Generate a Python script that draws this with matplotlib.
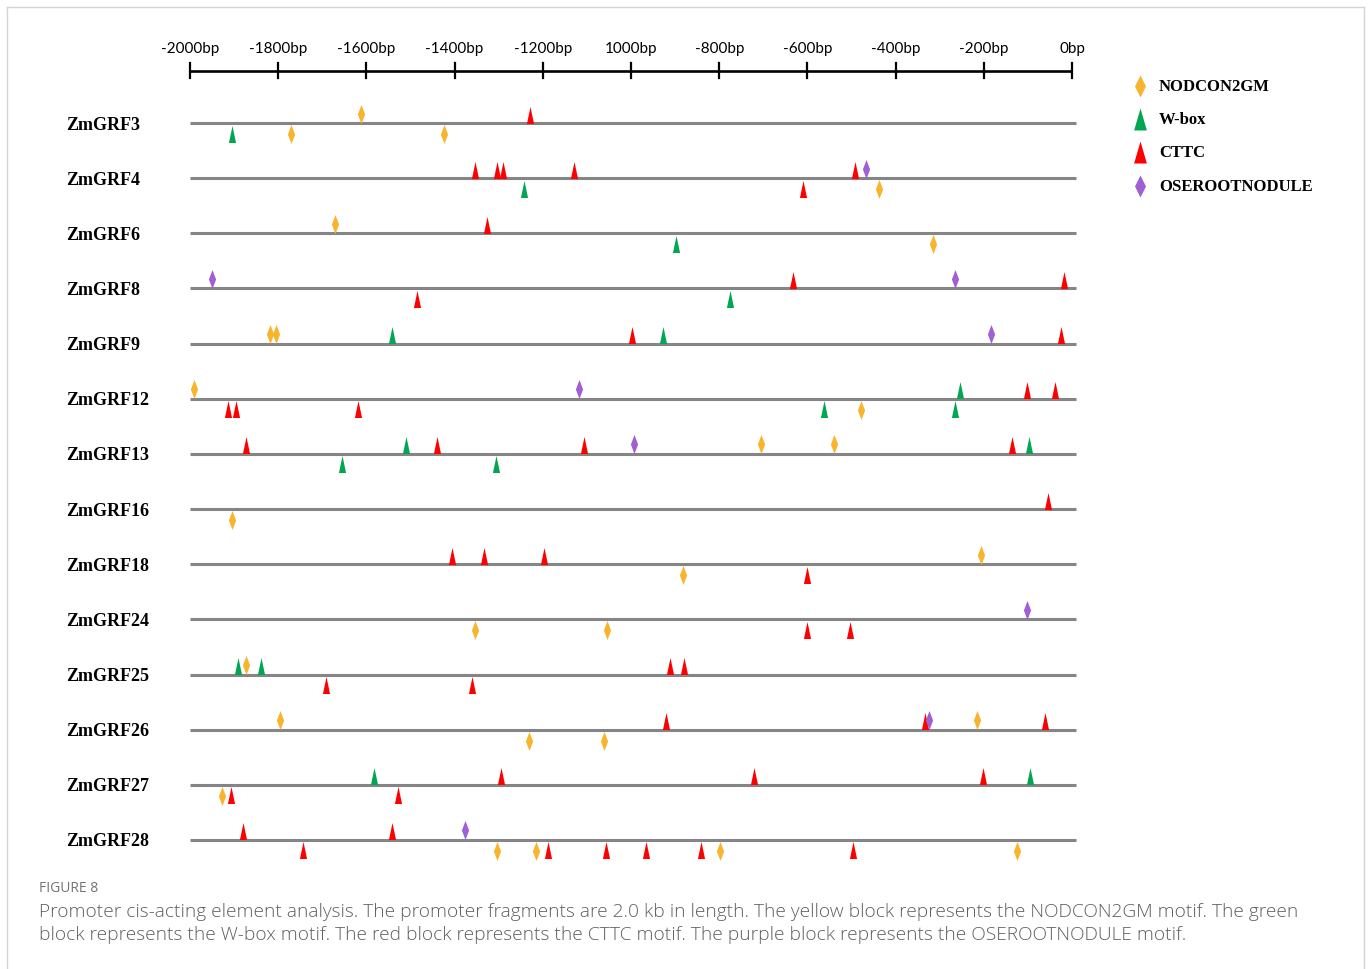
import matplotlib
matplotlib.use("Agg")
import matplotlib.pyplot as plt
from matplotlib.path import Path

# ---- data -------------------------------------------------------------
genes = ["ZmGRF3", "ZmGRF4", "ZmGRF6", "ZmGRF8", "ZmGRF9", "ZmGRF12", "ZmGRF13",
         "ZmGRF16", "ZmGRF18", "ZmGRF24", "ZmGRF25", "ZmGRF26", "ZmGRF27", "ZmGRF28"]

scale_ticks = [-2000, -1800, -1600, -1400, -1200, -1000, -800, -600, -400, -200, 0]
scale_labels = ["-2000bp", "-1800bp", "-1600bp", "-1400bp", "-1200bp", "1000bp",
                "-800bp", "-600bp", "-400bp", "-200bp", "0bp"]

# (gene, position in bp, strand) ; '+' drawn above the promoter line, '-' below
nodcon2gm = [
    ("ZmGRF3", -1612, "+"), ("ZmGRF3", -1771, "-"), ("ZmGRF3", -1425, "-"),
    ("ZmGRF4", -437, "-"),
    ("ZmGRF6", -1671, "+"), ("ZmGRF6", -315, "-"),
    ("ZmGRF9", -1819, "+"), ("ZmGRF9", -1805, "+"),
    ("ZmGRF12", -1990, "+"), ("ZmGRF12", -479, "-"),
    ("ZmGRF13", -705, "+"), ("ZmGRF13", -540, "+"),
    ("ZmGRF16", -1905, "-"),
    ("ZmGRF18", -207, "+"), ("ZmGRF18", -881, "-"),
    ("ZmGRF24", -1354, "-"), ("ZmGRF24", -1054, "-"),
    ("ZmGRF25", -1872, "+"),
    ("ZmGRF26", -1796, "+"), ("ZmGRF26", -215, "+"), ("ZmGRF26", -1231, "-"),
    ("ZmGRF26", -1062, "-"),
    ("ZmGRF27", -1927, "-"),
    ("ZmGRF28", -1303, "-"), ("ZmGRF28", -1216, "-"), ("ZmGRF28", -799, "-"),
    ("ZmGRF28", -125, "-"),
]

w_box = [
    ("ZmGRF3", -1905, "-"),
    ("ZmGRF4", -1243, "-"),
    ("ZmGRF6", -899, "-"),
    ("ZmGRF8", -775, "-"),
    ("ZmGRF9", -1541, "+"), ("ZmGRF9", -927, "+"),
    ("ZmGRF12", -253, "+"), ("ZmGRF12", -563, "-"), ("ZmGRF12", -265, "-"),
    ("ZmGRF13", -1510, "+"), ("ZmGRF13", -98, "+"), ("ZmGRF13", -1656, "-"),
    ("ZmGRF13", -1306, "-"),
    ("ZmGRF25", -1891, "+"), ("ZmGRF25", -1839, "+"),
    ("ZmGRF27", -1583, "+"), ("ZmGRF27", -95, "+"),
]

cttc = [
    ("ZmGRF3", -1228, "+"),
    ("ZmGRF4", -1353, "+"), ("ZmGRF4", -1304, "+"), ("ZmGRF4", -1290, "+"),
    ("ZmGRF4", -1129, "+"), ("ZmGRF4", -491, "+"), ("ZmGRF4", -609, "-"),
    ("ZmGRF6", -1327, "+"),
    ("ZmGRF8", -632, "+"), ("ZmGRF8", -18, "+"), ("ZmGRF8", -1486, "-"),
    ("ZmGRF9", -998, "+"), ("ZmGRF9", -25, "+"),
    ("ZmGRF12", -103, "+"), ("ZmGRF12", -39, "+"), ("ZmGRF12", -1913, "-"),
    ("ZmGRF12", -1896, "-"), ("ZmGRF12", -1619, "-"),
    ("ZmGRF13", -1873, "+"), ("ZmGRF13", -1439, "+"), ("ZmGRF13", -1107, "+"),
    ("ZmGRF13", -135, "+"),
    ("ZmGRF16", -54, "+"),
    ("ZmGRF18", -1405, "+"), ("ZmGRF18", -1333, "+"), ("ZmGRF18", -1197, "+"),
    ("ZmGRF18", -600, "-"),
    ("ZmGRF24", -600, "-"), ("ZmGRF24", -504, "-"),
    ("ZmGRF25", -912, "+"), ("ZmGRF25", -880, "+"), ("ZmGRF25", -1691, "-"),
    ("ZmGRF25", -1361, "-"),
    ("ZmGRF26", -921, "+"), ("ZmGRF26", -334, "+"), ("ZmGRF26", -61, "+"),
    ("ZmGRF27", -1294, "+"), ("ZmGRF27", -720, "+"), ("ZmGRF27", -201, "+"),
    ("ZmGRF27", -1907, "-"), ("ZmGRF27", -1529, "-"),
    ("ZmGRF28", -1879, "+"), ("ZmGRF28", -1542, "+"), ("ZmGRF28", -1744, "-"),
    ("ZmGRF28", -1189, "-"), ("ZmGRF28", -1057, "-"), ("ZmGRF28", -965, "-"),
    ("ZmGRF28", -841, "-"), ("ZmGRF28", -496, "-"),
]

oserootnodule = [
    ("ZmGRF4", -467, "+"),
    ("ZmGRF8", -1950, "+"), ("ZmGRF8", -265, "+"),
    ("ZmGRF9", -184, "+"),
    ("ZmGRF12", -1118, "+"),
    ("ZmGRF13", -993, "+"),
    ("ZmGRF24", -101, "+"),
    ("ZmGRF26", -324, "+"),
    ("ZmGRF28", -1376, "+"),
]

motif_names = ["NODCON2GM", "W-box", "CTTC", "OSEROOTNODULE"]
motif_sites = [nodcon2gm, w_box, cttc, oserootnodule]

caption_title = "FIGURE 8"
caption_lines = [
    "Promoter cis-acting element analysis. The promoter fragments are 2.0 kb in length. "
    "The yellow block represents the NODCON2GM motif. The green",
    "block represents the W-box motif. The red block represents the CTTC motif. "
    "The purple block represents the OSEROOTNODULE motif.",
]

# ---- styling ----------------------------------------------------------
W, H, DPI = 1372, 969, 100
PX_PER_PT = DPI / 72.0

yellow, green, red, purple = "#F9B42D", "#00A651", "#FF0000", "#A15FD4"
motif_colors = [yellow, green, red, purple]


def triangle(half_width):
    return Path([(-half_width, -0.5), (half_width, -0.5), (0, 0.5), (-half_width, -0.5)],
                [Path.MOVETO, Path.LINETO, Path.LINETO, Path.CLOSEPOLY])


def diamond(half_width):
    return Path([(0, 0.5), (half_width, 0), (0, -0.5), (-half_width, 0), (0, 0.5)],
                [Path.MOVETO, Path.LINETO, Path.LINETO, Path.LINETO, Path.CLOSEPOLY])


# marker shape, height in px, vertical offset of centre above / below the line (px)
motif_shapes = [
    (diamond(0.19), 19, -9.5, 11.0),
    (triangle(0.21), 17, -8.5, 10.5),
    (triangle(0.21), 17, -8.5, 10.5),
    (diamond(0.19), 19, -9.5, 11.0),
]

fig = plt.figure(figsize=(W / DPI, H / DPI), dpi=DPI)
ax = fig.add_axes([0, 0, 1, 1])

# horizontal bp scale: -2000 bp sits at px 190, 0 bp at px 1072
x0_px, x1_px = 190.0, 1072.0
bp_per_px = 2000.0 / (x1_px - x0_px)
ax.set_xlim(-2000 - x0_px * bp_per_px, (W - x1_px) * bp_per_px)
ax.set_ylim(H, 0)  # vertical unit = one pixel, growing downward
ax.axis("off")


def px_to_bp(px):
    return px * bp_per_px - 2000 - x0_px * bp_per_px


# frame around the panel
frame_c = "#d4d4d4"
ax.plot([px_to_bp(7)] * 2, [H + 5, 7], color=frame_c, lw=1.0)
ax.plot([px_to_bp(7), px_to_bp(1364)], [7, 7], color=frame_c, lw=1.0)
ax.plot([px_to_bp(1364)] * 2, [7, H + 5], color=frame_c, lw=1.0)

# scale bar at the top
scale_y = 70.5
ax.plot([scale_ticks[0], scale_ticks[-1]], [scale_y, scale_y], color="black",
        lw=1.9, solid_capstyle="butt", zorder=3)
for t, lab in zip(scale_ticks, scale_labels):
    ax.plot([t, t], [scale_y - 8, scale_y + 7], color="black", lw=1.6, zorder=3)
    ax.text(t, 49, lab, ha="center", va="center", fontsize=11,
            family=["Lato", "DejaVu Sans"], color="black")

# promoter lines and gene names
row_top, row_step = 123.0, 55.15
row_y = {g: row_top + i * row_step for i, g in enumerate(genes)}
for g in genes:
    y = row_y[g]
    ax.plot([-2000, 8], [y, y], color="#858585", lw=2.2, solid_capstyle="butt", zorder=1)
    ax.text(px_to_bp(66), y + 2, g, ha="left", va="center",
            fontsize=13, fontweight="bold", family="Liberation Serif", color="black")

# motif sites
for sites, color, (shape, h_px, up_off, down_off) in zip(motif_sites, motif_colors, motif_shapes):
    xs, ys = [], []
    for g, pos, strand in sites:
        xs.append(pos)
        ys.append(row_y[g] + (up_off if strand == "+" else down_off))
    ax.plot(xs, ys, linestyle="none", marker=shape, markersize=h_px / PX_PER_PT,
            markerfacecolor=color, markeredgewidth=0, zorder=4)

# legend
legend_shapes = [diamond(0.25), triangle(0.29), triangle(0.29), diamond(0.25)]
leg_y = [87, 120, 153, 187]
for name, color, shape, y in zip(motif_names, motif_colors, legend_shapes, leg_y):
    ax.plot([px_to_bp(1140)], [y - 1], linestyle="none",
            marker=shape, markersize=22 / PX_PER_PT, markerfacecolor=color,
            markeredgewidth=0)
    ax.text(px_to_bp(1159), y, name, ha="left",
            va="center", fontsize=12, fontweight="bold", family="Liberation Serif",
            color="black")

# caption
cap_font = ["Open Sans", "DejaVu Sans"]
ax.text(px_to_bp(39), 888, caption_title, ha="left", va="center", fontsize=10,
        family=cap_font, color="#737373")
for y, line in zip([912, 935], caption_lines):
    ax.text(px_to_bp(39), y, line, ha="left", va="center", fontsize=13.8,
            family=cap_font, fontweight="light", color="#5f5f5f")

fig.savefig("out.png", dpi=DPI)
